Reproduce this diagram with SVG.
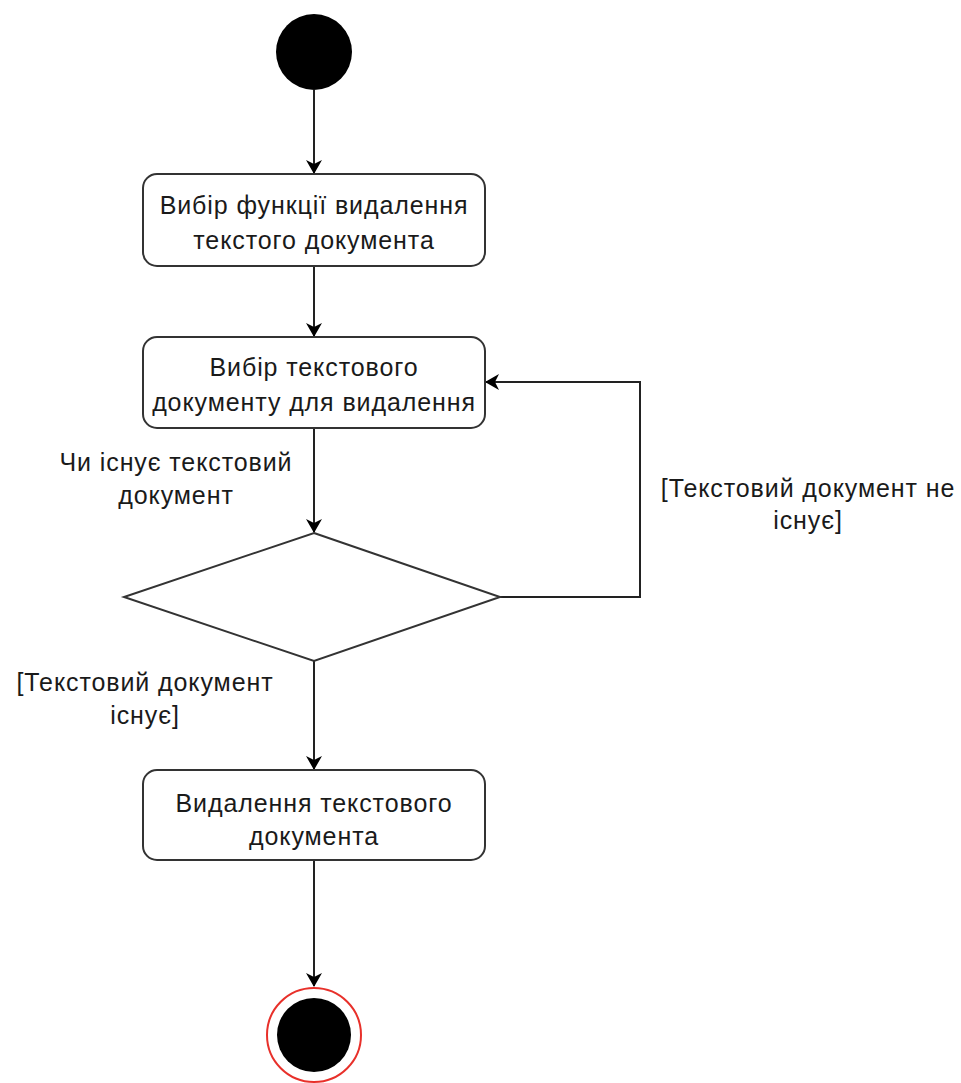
<svg xmlns="http://www.w3.org/2000/svg" width="961" height="1083" viewBox="0 0 961 1083">
  <style>
    .act { fill: #ffffff; stroke: #333333; stroke-width: 2; }
    .lbl { font-family: "Liberation Sans", Arial, sans-serif; font-size: 25px; letter-spacing: 0.9px; fill: #1a1a1a; text-anchor: middle; }
    .edge { fill: none; stroke: #222222; stroke-width: 2; }
  </style>
  <defs>
    <marker id="arrow" viewBox="0 0 14 16" refX="13" refY="8" markerWidth="14" markerHeight="16" markerUnits="userSpaceOnUse" orient="auto">
      <path d="M0,0 L14,8 L0,16 L4,8 Z" fill="#000000"/>
    </marker>
  </defs>

  <rect width="961" height="1083" fill="#ffffff"/>

  <!-- connectors -->
  <g id="connectors">
    <line class="edge" x1="314" y1="90" x2="314" y2="173" marker-end="url(#arrow)"/>
    <line class="edge" x1="314" y1="266" x2="314" y2="336" marker-end="url(#arrow)"/>
    <line class="edge" x1="314" y1="428" x2="314" y2="532" marker-end="url(#arrow)"/>
    <polyline class="edge" points="500,597 640,597 640,382 486,382" marker-end="url(#arrow)"/>
    <line class="edge" x1="314" y1="661" x2="314" y2="769" marker-end="url(#arrow)"/>
    <line class="edge" x1="314" y1="860" x2="314" y2="986" marker-end="url(#arrow)"/>
    <text class="lbl" x="176" y="471">Чи існує текстовий</text>
    <text class="lbl" x="176" y="504">документ</text>
    <text class="lbl" x="808" y="497">[Текстовий документ не</text>
    <text class="lbl" x="808" y="529">існує]</text>
    <text class="lbl" x="145" y="691">[Текстовий документ</text>
    <text class="lbl" x="145" y="724">існує]</text>
  </g>

  <!-- initial node -->
  <g id="start">
    <circle cx="314" cy="52" r="38" fill="#000000"/>
  </g>

  <g id="choose-function">
    <rect class="act" x="143" y="174" width="342" height="92" rx="14"/>
    <text class="lbl" x="314" y="214">Вибір функції видалення</text>
    <text class="lbl" x="314" y="249">текстого документа</text>
  </g>

  <g id="choose-document">
    <rect class="act" x="143" y="337" width="342" height="91" rx="14"/>
    <text class="lbl" x="314" y="376">Вибір текстового</text>
    <text class="lbl" x="314" y="411">документу для видалення</text>
  </g>

  <g id="decision">
    <polygon class="act" points="314,533 500,597 314,661 124,597"/>
  </g>

  <g id="delete-document">
    <rect class="act" x="143" y="770" width="342" height="90" rx="14"/>
    <text class="lbl" x="314" y="812">Видалення текстового</text>
    <text class="lbl" x="314" y="845">документа</text>
  </g>

  <!-- final node -->
  <g id="end">
    <circle cx="314" cy="1035" r="47" fill="#ffffff" stroke="#e8302a" stroke-width="2"/>
    <circle cx="314" cy="1035" r="37" fill="#000000"/>
  </g>
</svg>
